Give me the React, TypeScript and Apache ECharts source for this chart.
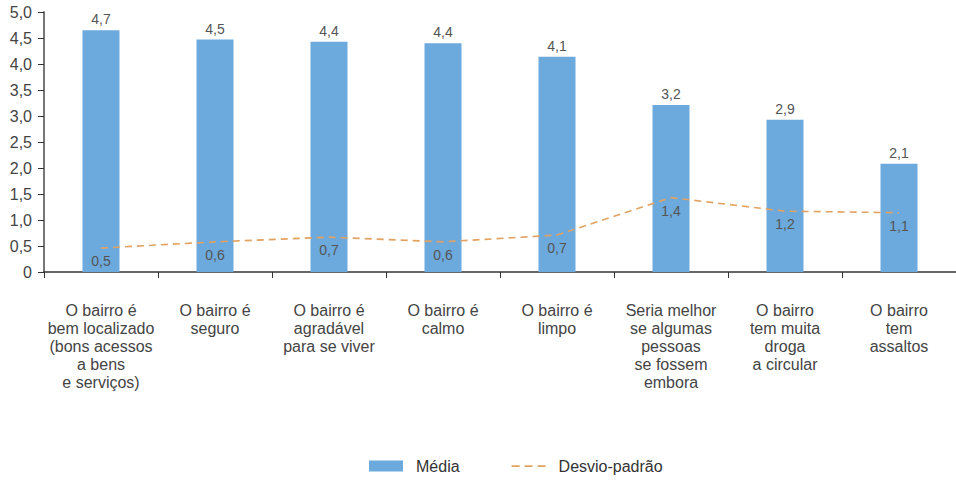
import React, { useEffect, useRef } from "react";
import * as echarts from "echarts";

const categories = [
  "O bairro é\nbem localizado\n(bons acessos\na bens\ne serviços)",
  "O bairro é\nseguro",
  "O bairro é\nagradável\npara se viver",
  "O bairro é\ncalmo",
  "O bairro é\nlimpo",
  "Seria melhor\nse algumas\npessoas\nse fossem\nembora",
  "O bairro\ntem muita\ndroga\na circular",
  "O bairro\ntem\nassaltos",
];
const media = [4.65, 4.47, 4.43, 4.4, 4.14, 3.21, 2.93, 2.08];
const desvio = [0.46, 0.58, 0.67, 0.58, 0.71, 1.43, 1.17, 1.14];
const yTicks = { min: 0, max: 5, interval: 0.5 };

const fmt = (v: number) => (Math.round(v * 10) / 10).toFixed(1).replace(".", ",");

export default function App() {
  const ref = useRef<HTMLDivElement>(null);
  useEffect(() => {
    if (!ref.current) return;
    const chart = echarts.init(ref.current, undefined, { renderer: "svg" });
    const font = "'Liberation Sans', Arial, sans-serif";
    const lineColor = "#E2A262";
    chart.setOption({
      animation: false,
      textStyle: { fontFamily: font },
      grid: { left: 44, right: 0, top: 12, bottom: 210, containLabel: false },
      legend: {
        bottom: 3,
        left: 364,
        itemWidth: 34,
        itemHeight: 11,
        itemGap: 52,
        textStyle: { fontSize: 16, color: "#333", fontFamily: font, padding: [0, 0, 0, 8] },
        data: [
          { name: "Média", icon: "rect" },
          {
            name: "Desvio-padrão",
            icon: "path://M0,0L0,0Z M0,11L0,11Z M0,4.8h8v1.6h-8z M13,4.8h8v1.6h-8z M26,4.8h8v1.6h-8z",
            itemStyle: { color: lineColor, opacity: 1 },
          },
        ],
      },
      xAxis: {
        type: "category",
        data: categories,
        axisLine: { lineStyle: { color: "#333", width: 1.5 } },
        axisTick: { show: true, length: 6, lineStyle: { color: "#333" } },
        axisLabel: {
          interval: 0,
          margin: 29,
          fontSize: 16,
          lineHeight: 18,
          color: "#444",
          fontFamily: font,
          align: "center",
        },
      },
      yAxis: {
        type: "value",
        min: yTicks.min,
        max: yTicks.max,
        interval: yTicks.interval,
        splitLine: { show: false },
        axisLine: { show: true, lineStyle: { color: "#777", width: 2 } },
        axisTick: { show: true, length: 6, lineStyle: { color: "#333" } },
        axisLabel: {
          fontSize: 16,
          color: "#444",
          margin: 12,
          fontFamily: font,
          formatter: (v: number) => (v === 0 ? "0" : v.toFixed(1).replace(".", ",")),
        },
      },
      series: [
        {
          name: "Média",
          type: "bar",
          data: media,
          barWidth: 37,
          itemStyle: { color: "#6CA9DC" },
          label: {
            show: true,
            position: "top",
            distance: 4,
            fontSize: 14,
            color: "#555",
            fontFamily: font,
            formatter: (p: any) => fmt(p.value),
          },
        },
        {
          name: "Desvio-padrão",
          type: "line",
          data: desvio,
          symbol: "circle",
          symbolSize: 0.1,
          showSymbol: true,
          itemStyle: { color: lineColor },
          lineStyle: { color: lineColor, width: 1.6, type: [7, 5] },
          label: {
            show: true,
            position: "bottom",
            distance: 6,
            fontSize: 14,
            color: "#555",
            fontFamily: font,
            formatter: (p: any) => fmt(p.value),
          },
        },
      ],
    });
    return () => chart.dispose();
  }, []);
  return (
    <div
      ref={ref}
      style={{ position: "fixed", left: 0, top: 0, width: 956, height: 482, background: "#fff" }}
    />
  );
}
